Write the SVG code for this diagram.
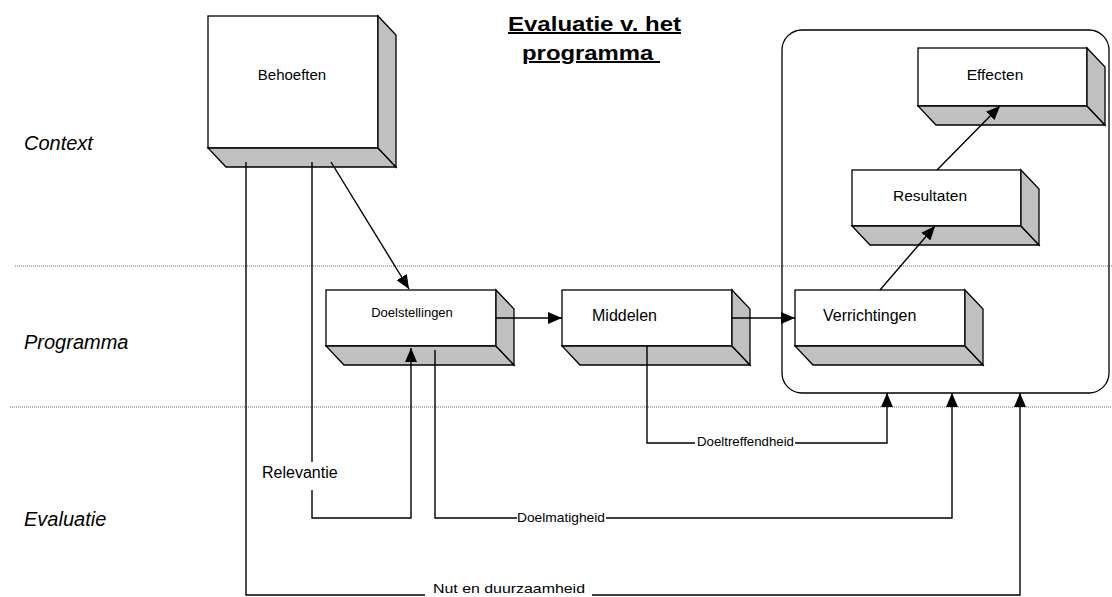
<svg xmlns="http://www.w3.org/2000/svg" width="1112" height="597" viewBox="0 0 1112 597">
<style>
.front{fill:#fff;stroke:#000;stroke-width:1.3}
.side{fill:#c0c0c0;stroke:#000;stroke-width:1.3;stroke-linejoin:miter}
.lbl{font-family:"Liberation Sans",Arial,sans-serif;fill:#000}
.sec{font-family:"Liberation Sans",Arial,sans-serif;font-style:italic;font-size:20px;fill:#000}
.con{fill:none;stroke:#000;stroke-width:1.4}
.arr{marker-end:url(#ah)}
.dot{stroke:#666;stroke-width:1;stroke-dasharray:1 1}
</style>
<defs>
<marker id="ah" viewBox="0 0 14 12" refX="14" refY="6" markerWidth="14" markerHeight="12" markerUnits="userSpaceOnUse" orient="auto">
<path d="M0,0 L14,6 L0,12 z" fill="#000"/>
</marker>
</defs>
<rect width="1112" height="597" fill="#fff"/>
<g id="bands">
<line class="dot" x1="15" y1="266" x2="1112" y2="266"/>
<line class="dot" x1="10" y1="407" x2="1112" y2="407"/>
<text class="sec" x="24" y="150">Context</text>
<text class="sec" x="24" y="349">Programma</text>
<text class="sec" x="24" y="526">Evaluatie</text>
</g>
<g id="title" class="lbl" font-weight="bold" font-size="20" text-decoration="underline">
<text x="508" y="31" textLength="173" lengthAdjust="spacingAndGlyphs" text-decoration="underline">Evaluatie v. het</text>
<text x="522" y="60" textLength="138" lengthAdjust="spacingAndGlyphs" style="white-space:pre" text-decoration="underline">programma </text>
</g>
<g id="programme-frame">
<rect x="782" y="30" width="327" height="363" rx="20" ry="20" fill="none" stroke="#000" stroke-width="1.3"/>
</g>
<g id="behoeften">
<rect class="front" x="208" y="16" width="170" height="132"/>
<polygon class="side" points="208,148 378,148 396,167 226,167"/>
<polygon class="side" points="378,16 396,35 396,167 378,148"/>
<text class="lbl" x="292" y="80" font-size="15" text-anchor="middle">Behoeften</text>
</g>
<g id="doelstellingen">
<rect class="front" x="326" y="290" width="170" height="56"/>
<polygon class="side" points="326,346 496,346 514,365 344,365"/>
<polygon class="side" points="496,290 514,309 514,365 496,346"/>
<text class="lbl" x="412" y="317" font-size="13" text-anchor="middle">Doelstellingen</text>
</g>
<g id="middelen">
<rect class="front" x="562" y="290" width="170" height="56"/>
<polygon class="side" points="562,346 732,346 750,365 580,365"/>
<polygon class="side" points="732,290 750,309 750,365 732,346"/>
<text class="lbl" x="592" y="321" font-size="16">Middelen</text>
</g>
<g id="verrichtingen">
<rect class="front" x="795" y="290" width="170" height="56"/>
<polygon class="side" points="795,346 965,346 983,365 813,365"/>
<polygon class="side" points="965,290 983,309 983,365 965,346"/>
<text class="lbl" x="823" y="321" font-size="16">Verrichtingen</text>
</g>
<g id="resultaten">
<rect class="front" x="852" y="170" width="169" height="56"/>
<polygon class="side" points="852,226 1021,226 1039,245 870,245"/>
<polygon class="side" points="1021,170 1039,189 1039,245 1021,226"/>
<text class="lbl" x="930" y="201" font-size="15.5" text-anchor="middle">Resultaten</text>
</g>
<g id="effecten">
<rect class="front" x="918" y="48" width="169" height="58"/>
<polygon class="side" points="918,106 1087,106 1105,125 936,125"/>
<polygon class="side" points="1087,48 1105,67 1105,125 1087,106"/>
<text class="lbl" x="995" y="80" font-size="15.5" text-anchor="middle">Effecten</text>
</g>
<g id="connectors">
<line class="con arr" x1="331" y1="162" x2="409" y2="289"/>
<line class="con arr" x1="496" y1="318" x2="562" y2="318"/>
<line class="con arr" x1="732" y1="318" x2="795" y2="318"/>
<line class="con arr" x1="880" y1="290" x2="935" y2="226"/>
<line class="con arr" x1="937" y1="170" x2="1000" y2="106"/>
<path class="con" d="M312,162 V462"/>
<path class="con arr" d="M312,490 V518 H411 V348"/>
<path class="con" d="M435,350 V518 H517"/>
<path class="con arr" d="M606,518 H952 V393"/>
<path class="con" d="M647,346 V443 H695"/>
<path class="con arr" d="M795,443 H887 V393"/>
<path class="con" d="M246,162 V595 H425"/>
<path class="con arr" d="M592,595 H1020 V393"/>
<text class="lbl" x="262" y="478" font-size="16">Relevantie</text>
<text class="lbl" x="697" y="446" font-size="13" textLength="97" lengthAdjust="spacingAndGlyphs">Doeltreffendheid</text>
<text class="lbl" x="517" y="522" font-size="13" textLength="88" lengthAdjust="spacingAndGlyphs">Doelmatigheid</text>
<text class="lbl" x="433" y="593" font-size="13.5" textLength="152" lengthAdjust="spacingAndGlyphs">Nut en duurzaamheid</text>
</g>
</svg>
